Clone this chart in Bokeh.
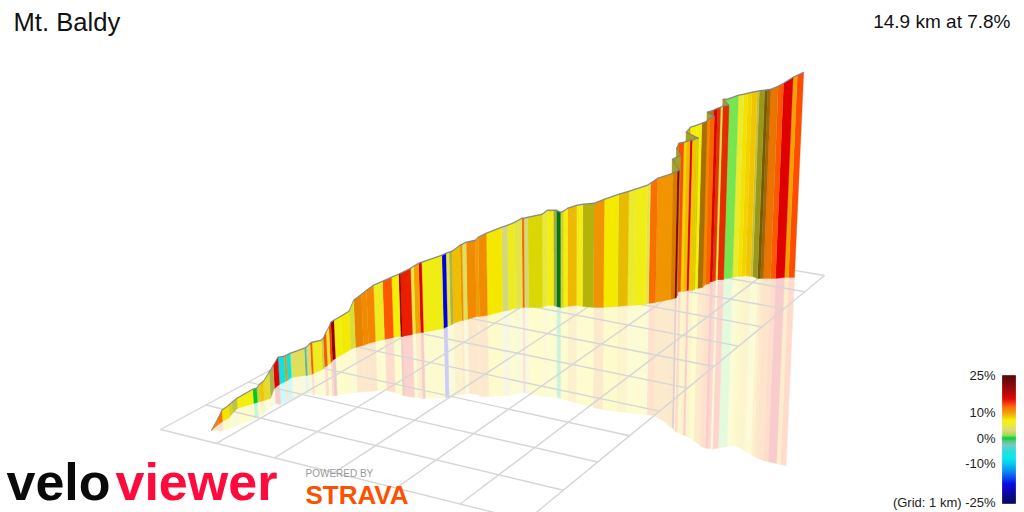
import numpy as np
from bokeh.core.properties import value
from bokeh.embed import file_html
from bokeh.models import Range1d
from bokeh.plotting import figure
from bokeh.resources import INLINE

TITLE = "Mt. Baldy"
SUMMARY = "14.9 km at 7.8%"
SCALE_TICKS = [25, 10, 0, -10, -25]
GRID_NOTE = "(Grid: 1 km) "
GRID_CELLS_A = 6
GRID_CELLS_B = 11

# Route stations: projected base x, top, base and reflection rows
base_x = [211, 218, 222, 229, 232, 237, 253, 257, 260, 264, 270, 274, 279, 285, 287, 291, 305, 307, 311, 313,
          322, 324, 327, 330, 332, 335, 342, 350, 355, 363, 368, 375, 384, 393, 400, 402, 412, 415, 420, 423,
          443, 447, 450, 453, 461, 463, 467, 476, 479, 487, 502, 508, 515, 522, 524, 528, 542, 547, 553, 556,
          560, 563, 567, 576, 582, 593, 603, 617, 627, 633, 645, 648, 655, 670, 674, 676, 669, 677, 673, 675,
          680, 683, 686, 688, 692, 694, 682, 686, 692, 697, 702, 705, 709, 702, 708, 712, 715, 717, 723, 717,
          721, 732, 737, 741, 745, 750, 752, 757, 760, 763, 770, 775, 784, 788, 794]
top_y = [430, 418, 410, 405, 402, 398, 389, 388, 384, 381, 372, 365, 357, 356, 355, 353, 348, 347, 343, 342,
         340, 338, 332, 327, 322, 320, 316, 311, 300, 294, 290, 285, 281, 277, 274, 273, 268, 266, 263, 262,
         255, 253, 252, 251, 245, 244, 242, 240, 237, 233, 227, 225, 222, 218, 218, 217, 214, 210, 210, 210,
         212, 211, 208, 205, 204, 203, 199, 194, 191, 189, 185, 183, 178, 173, 171, 170, 159, 155, 148, 143,
         142, 141, 140, 140, 138, 138, 132, 127, 125, 123, 121, 118, 116, 112, 110, 108, 107, 106, 105, 99,
         99, 95, 94, 93, 92, 91, 90.5, 90, 89.5, 89, 86, 83, 77, 75, 72]
bottom_y = [430, 424, 421, 417, 413, 408, 403, 402, 401, 400, 398, 388, 384, 381, 380, 377, 375, 375, 374, 373,
            369, 367, 365, 363, 360, 358, 354, 349, 347, 345, 343, 341, 339, 337, 336, 336, 334, 333, 332, 332,
            328, 326, 325, 323, 320, 320, 319, 316, 316, 315, 311, 310, 308, 307, 307, 307, 307, 305, 305, 306,
            307, 307, 306, 305, 306, 307, 307, 306, 305, 305, 304, 303, 302, 299, 298, 297, 296, 295, 293, 292,
            291, 291, 290, 290, 290, 289, 288, 288, 288, 288, 287, 284, 283, 282, 282, 281, 280, 279, 279, 279,
            279, 277, 276, 276, 275, 276, 276, 278, 278, 278, 278, 278, 277, 277, 277]
shadow_y = [430, 430, 430, 428, 427, 425, 418, 417, 415, 412, 406, 403, 404, 401, 400, 398, 393, 393, 394, 394,
            395, 395, 395, 395, 395, 395, 393, 392, 392, 391, 391, 390, 390, 392, 395, 395, 397, 397, 398, 398,
            397, 397, 396, 395, 394, 393, 393, 394, 396, 396, 395, 395, 393, 392, 392, 393, 396, 396, 397, 397,
            398, 399, 400, 402, 404, 407, 409, 411, 412, 413, 414, 414, 415, 423, 427, 428, 425, 429, 426, 428,
            432, 433, 434, 435, 437, 438, 432, 434, 437, 440, 443, 446, 447, 443, 447, 448, 448, 449, 447, 448,
            448, 446, 445, 445, 447, 450, 451, 454, 456, 457, 460, 461, 463, 464, 465]
# Gradient (%) of the stripe starting at each station, and its side-light factor
grade = [11, 12, 7.5, 5.5, 4.5, 6.5, 0, 5, 8.5, 5.5, 3.5, 15.5, -7, 10.5, -7, 4, -2.5, 3.5, 12.5, 6,
         4.5, 12.8, 5.5, 13.5, 20, 6.5, 7.2, 5, 10.8, 10.8, 11, 6, 12.7, 6.8, 19, 14.5, 5, 9.8, 15.5, 6.3,
         -18, 5, 4, 8.8, 10.5, 4, 10.8, 10, 10.7, 7.3, 3, 6, 4.5, 12.3, 3, 6.8, 5, 6.5, 4, 0,
         6, 6.5, 9, 6.2, 6.5, 10.3, 7.2, 8.5, 5.5, 6.2, 4.5, 12, 10.3, 10.8, 20, 5, 5, 5, 10, 13,
         8, 9, 15.5, 8.5, 6.8, 5, 8.5, 7, 6.8, 10, 11, 12.3, 5, 10, 15.5, 13.5, 4.5, 14, 4.5, 5,
         1, 5.5, 7.5, 8, 8.5, 4.5, 5.5, 9, 10.5, 11.5, 12.7, 15.5, 9.8, 13, 13]
shade = [1, 1, 1, .9, .85, 1, 1, .9, 1, .95, .8, 1, 1, 1, 1, 1, .9, 1, 1, 1,
         .9, 1, 1, 1, 1, 1, 1, .95, .95, 1, 1, 1, 1, 1, 1, 1, 1, 1, 1, 1,
         1, 1, .8, 1, 1, 1, 1, 1, 1, 1, 1, 1, 1, 1, 1, .9, 1, 1, .75, .6,
         .9, 1, 1, 1, .75, 1, 1, .95, 1, 1, 1, 1, 1, .88, 1, .7, .7, .7, .8, 1,
         1, 1, 1, 1, .9, .7, .85, 1, 1, .7, 1, 1, .7, .75, 1, .9, 1, .95, .7, .8,
         1, 1, 1, 1, 1, .85, .65, .5, .7, .95, 1, 1, 1, 1, 1]

# Colour scale
scale_stops = [-25, -18, -14, -10, -8, -5, -3, -1.2, 0, 1, 1.8, 3, 5, 7, 9, 10.5, 12, 13, 15.5, 18, 20, 25]
scale_colors = ["#00005a", "#0000e6", "#0070f0", "#00c8f0", "#00e6e6", "#20dcdc", "#70c8c8", "#50c880", "#00c828",
                "#78e450", "#c0d050", "#d4d878", "#e8e83c", "#f5f000", "#f0b800", "#f09000", "#f87000", "#ff4c00",
                "#e00000", "#b00000", "#900000", "#4a0000"]

assert len(base_x) == len(top_y) == len(bottom_y) == len(shadow_y) == len(grade) == len(shade)

stop_rgb = np.array([[int(c[i:i + 2], 16) for i in (1, 3, 5)] for c in scale_colors], float)


def rgb_for(g, light=1.0, wash=0.0):
    rgb = np.array([np.interp(g, scale_stops, stop_rgb[:, k]) for k in range(3)]) * light
    rgb = rgb * (1 - wash) + 255 * wash
    return "#%02x%02x%02x" % tuple(int(round(v)) for v in rgb)


p = figure(width=1024, height=512, x_range=Range1d(0, 1024), y_range=Range1d(512, 0),
           output_backend="svg", toolbar_location=None, min_border=0)
p.axis.visible = False
p.grid.visible = False
p.outline_line_color = None
p.background_fill_color = "white"

xb, yt, yb, ys = map(lambda a: np.array(a, float), (base_x, top_y, bottom_y, shadow_y))
LEAN = 0.000194
xt = xb + (xb - 562) * LEAN * (yb - yt)
xs = xb - (xb - 562) * LEAN * (ys - yb)

# Reflection (painted far to near, washed out over white)
order = list(range(len(xb) - 2, -1, -1))
p.patches([[xb[i], xb[i + 1], xs[i + 1], xs[i]] for i in order],
          [[yb[i], yb[i + 1], ys[i + 1], ys[i]] for i in order],
          fill_color=[rgb_for(grade[i], 1.0, 0.8) for i in order],
          line_color=[rgb_for(grade[i], 1.0, 0.8) for i in order], line_width=0.5)

# Ground grid, through the perspective of its four corners
corner_src = np.array([[0, 0], [GRID_CELLS_A, 0], [GRID_CELLS_A, GRID_CELLS_B], [0, GRID_CELLS_B]], float)
corner_dst = np.array([[160, 429], [526, 520], [824, 275], [536, 226]], float)
A = []
for (u, v), (x, y) in zip(corner_src, corner_dst):
    A.append([u, v, 1, 0, 0, 0, -u * x, -v * x, -x])
    A.append([0, 0, 0, u, v, 1, -u * y, -v * y, -y])
H = np.linalg.svd(np.array(A))[2][-1].reshape(3, 3)


def project(u, v):
    w = H @ np.array([u, v, 1.0])
    return w[0] / w[2], w[1] / w[2]


gx, gy = [], []
for a in range(GRID_CELLS_A + 1):
    s, e = project(a, 0), project(a, GRID_CELLS_B)
    gx.append([s[0], e[0]])
    gy.append([s[1], e[1]])
for b in range(GRID_CELLS_B + 1):
    s, e = project(0, b), project(GRID_CELLS_A, b)
    gx.append([s[0], e[0]])
    gy.append([s[1], e[1]])
p.multi_line(gx, gy, line_color="#d6d6d6", line_width=1.4)

# Ribbon: each stripe followed by its grey top edge, far to near so folds hide properly
px, py, pc = [], [], []
for i in order:
    c = rgb_for(grade[i], shade[i])
    px.append([xt[i], xt[i + 1], xb[i + 1], xb[i]])
    py.append([yt[i], yt[i + 1], yb[i + 1], yb[i]])
    pc.append(c)
    px.append([xt[i], xt[i + 1], xt[i + 1], xt[i]])
    py.append([yt[i] - 0.7, yt[i + 1] - 0.7, yt[i + 1] + 0.2, yt[i] + 0.2])
    pc.append("#808080")
p.patches(px, py, fill_color=pc, line_color=pc, line_width=0.3)

# Legend bar: whole-pixel rows so that no white shows between them
bar_rows = np.arange(375, 503)
bar_colors = [rgb_for((438 - (r + 0.5)) / 2.54) for r in bar_rows]
p.quad(left=1002, right=1015, top=bar_rows, bottom=bar_rows + 1,
       fill_color=bar_colors, line_color=bar_colors, line_width=0.6)

FONT = value("Liberation Sans")
tick_y = [375, 412, 438, 463, 502]
tick_txt = [f"{t}%" for t in SCALE_TICKS]
tick_txt[-1] = GRID_NOTE + tick_txt[-1]
p.text(x=[995] * 5, y=tick_y, text=tick_txt, text_font=FONT, text_font_size="13px",
       text_color="#222222", text_align="right", text_baseline="middle")
p.text(x=[13], y=[21], text=[TITLE], text_font=FONT, text_font_size="25.6px",
       text_color="#111111", text_baseline="middle")
p.text(x=[1010], y=[21], text=[SUMMARY], text_font=FONT, text_font_size="19px",
       text_color="#111111", text_align="right", text_baseline="middle")

# Logos as text
p.text(x=[6], y=[481], text=["velo"], text_font=FONT, text_font_size="52px", text_font_style="bold",
       text_color="#0a0a0a", text_baseline="middle")
p.text(x=[115], y=[481], text=["viewer"], text_font=FONT, text_font_size="52px", text_font_style="bold",
       text_color="#ff0a3c", text_baseline="middle")
p.text(x=[305], y=[473], text=["POWERED BY"], text_font=FONT, text_font_size="10px",
       text_color="#999999", text_baseline="middle")
p.text(x=[305], y=[494], text=["STRAVA"], text_font=FONT, text_font_size="26px", text_font_style="bold",
       text_color="#fc5200", text_baseline="middle")

open("out.html", "w").write(file_html(p, INLINE))
